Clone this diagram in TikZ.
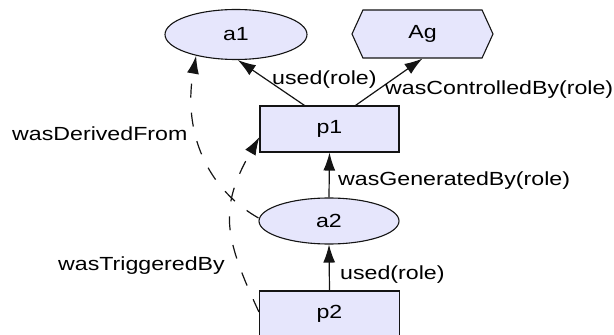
\documentclass[tikz,border=0pt]{standalone}
\usepackage{fontspec}
\setmainfont[FakeStretch=1.22]{Liberation Sans}
\usetikzlibrary{arrows.meta,shapes.geometric,shapes.symbols}
\definecolor{nodefill}{RGB}{230,230,252}
\definecolor{edgecol}{RGB}{20,20,20}
\tikzset{
  base/.style={draw=edgecol, line width=1.1pt, fill=nodefill, inner sep=0pt},
  artifact/.style={base, ellipse, minimum width=142pt, minimum height=50pt},
  process/.style={base, rectangle, minimum width=139pt, minimum height=46pt},
  agent/.style={base, signal, signal to=west and east, signal pointer angle=131,
                minimum width=141pt, minimum height=48pt},
  dep/.style={draw=edgecol, line width=1.2pt, -{Latex[length=18pt,width=12pt]}},
  derived/.style={dep, dash pattern=on 14pt off 15pt},
  lbl/.style={inner sep=0pt, anchor=base west},
}
\begin{document}
\begin{tikzpicture}[x=1pt,y=1pt, every node/.style={font=\fontsize{19}{22}\selectfont}]
\useasboundingbox (0,0) rectangle (614,335);
\clip (0,0) rectangle (614,335);
% nodes
\node[artifact] (a1) at (236,300.5) {a1};
\node[agent] (Ag) at (422.5,301) {Ag};
\node[process] (p1) at (329.5,206) {p1};
\node[artifact, minimum width=140pt, minimum height=46pt] (a2) at (329,114) {a2};
\node[process, minimum width=140pt] (p2) at (329.5,21) {p2};
% solid dependencies
\draw[dep] ([xshift=-25pt]p1.north) -- (a1.-86);
\draw[dep] ([xshift=26pt]p1.north) -- (Ag.south);
\draw[dep] (a2.north) -- (p1.south);
\draw[dep] (p2.north) -- (a2.south);
% dashed dependencies
\draw[derived] ([yshift=3pt]a2.west) to[out=150, in=-100] (a1.-152);
\draw[derived] ([yshift=2pt]p2.west) to[out=115, in=-120, looseness=1.2] ([yshift=-8pt]p1.west);
% labels
\node[lbl] (l1) at (272,250) {used(role)};
\node[lbl] (l2) at (385,240) {wasControlledBy(role)};
\node[lbl] (l3) at (12,194) {wasDerivedFrom};
\node[lbl] (l4) at (338,149) {wasGeneratedBy(role)};
\node[lbl] (l5) at (58,64) {wasTriggeredBy};
\node[lbl] (l6) at (340,55) {used(role)};
\end{tikzpicture}
\end{document}
